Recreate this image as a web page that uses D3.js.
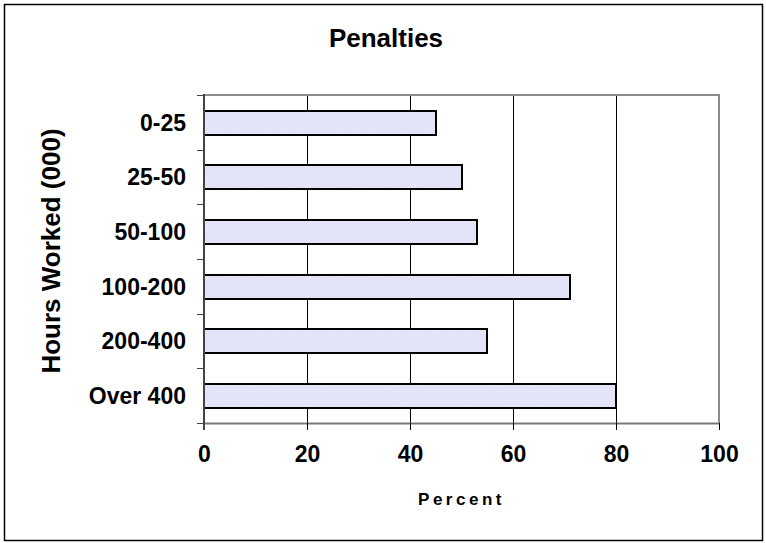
<!DOCTYPE html>
<html>
<head>
<meta charset="utf-8">
<script src="https://cdn.jsdelivr.net/npm/d3@7"></script>
<style>
  html, body { margin: 0; padding: 0; background: #fff; }
  svg text { font-family: "Liberation Sans", Arial, sans-serif; font-weight: bold; fill: #000; }
</style>
</head>
<body>
<svg id="chart" width="766" height="543"></svg>
<script>
// Penalties by hours worked (thousands)
const categories = ["0-25", "25-50", "50-100", "100-200", "200-400", "Over 400"];
const percentValues = [45, 50, 53, 71, 55, 80];
const xTicks = [0, 20, 40, 60, 80, 100];

const svg = d3.select("#chart");

// Frame around the whole chart
svg.append("rect")
  .attr("x", 4.5).attr("y", 4.5)
  .attr("width", 758).attr("height", 536)
  .attr("fill", "#fff")
  .attr("stroke", "#000").attr("stroke-width", 1.5);

const plot = { left: 204, right: 719, top: 95, bottom: 423 };

const x = d3.scaleLinear().domain([0, 100]).range([plot.left, plot.right]);
const y = d3.scaleBand().domain(categories)
  .range([plot.top, plot.bottom])
  .paddingInner(0.57).paddingOuter(0.285);

const px = v => Math.round(v) + 0.5;

// Vertical gridlines
svg.append("g")
  .selectAll("line")
  .data(xTicks.filter(t => t > 0 && t < 100))
  .join("line")
  .attr("x1", d => px(x(d))).attr("x2", d => px(x(d)))
  .attr("y1", plot.top).attr("y2", plot.bottom)
  .attr("stroke", "#000").attr("stroke-width", 1);

// Plot area top and right edges
svg.append("path")
  .attr("d", `M${plot.left},${plot.top}H${plot.right}V${plot.bottom}`)
  .attr("fill", "none")
  .attr("stroke", "#8c8c8c").attr("stroke-width", 2);

// Hatched fill for bars
const defs = svg.append("defs");
const pat = defs.append("pattern")
  .attr("id", "barFill")
  .attr("patternUnits", "userSpaceOnUse")
  .attr("width", 3).attr("height", 3)
  .attr("patternTransform", "rotate(45)");
pat.append("rect").attr("width", 3).attr("height", 3).attr("fill", "#e6e6fb");
pat.append("line").attr("x1", 0).attr("y1", 0).attr("x2", 0).attr("y2", 3)
  .attr("stroke", "#d8d8f2").attr("stroke-width", 1);

// Bars
svg.append("g")
  .selectAll("rect")
  .data(categories.map((c, i) => ({ c, v: percentValues[i] })))
  .join("rect")
  .attr("x", x(0))
  .attr("y", d => Math.round(y(d.c)))
  .attr("width", d => Math.round(x(d.v) - x(0)))
  .attr("height", Math.round(y.bandwidth()))
  .attr("fill", "url(#barFill)")
  .attr("stroke", "#000").attr("stroke-width", 2);

// X axis
const xAxis = svg.append("g")
  .attr("transform", `translate(0,${plot.bottom})`)
  .call(d3.axisBottom(x).tickValues(xTicks).tickSize(7).tickPadding(16).tickSizeOuter(0));
xAxis.select(".domain").attr("stroke", "#7a7a7a").attr("stroke-width", 2);
xAxis.selectAll(".tick line").attr("stroke", "#000");
xAxis.selectAll(".tick text")
  .attr("font-size", 23)
  .attr("font-family", "'Liberation Sans', Arial, sans-serif")
  .attr("font-weight", "bold")
  .attr("fill", "#000");

// Y axis: ticks sit on the band boundaries
const yAxisG = svg.append("g");
yAxisG.append("line")
  .attr("x1", plot.left).attr("x2", plot.left)
  .attr("y1", plot.top - 1).attr("y2", plot.bottom + 7)
  .attr("stroke", "#444").attr("stroke-width", 2);
const step = y.step();
const bounds = d3.range(categories.length + 1).map(i => px(plot.top + i * step));
yAxisG.selectAll("line.tick")
  .data(bounds)
  .join("line")
  .attr("class", "tick")
  .attr("x1", plot.left - 7).attr("x2", plot.left)
  .attr("y1", d => d).attr("y2", d => d)
  .attr("stroke", "#444").attr("stroke-width", 1);
yAxisG.selectAll("text")
  .data(categories)
  .join("text")
  .attr("x", 186)
  .attr("y", d => y(d) + y.bandwidth() / 2)
  .attr("dy", "0.36em")
  .attr("text-anchor", "end")
  .attr("font-size", 23)
  .text(d => d);

// Titles
svg.append("text")
  .attr("x", 386).attr("y", 47)
  .attr("text-anchor", "middle")
  .attr("font-size", 26)
  .text("Penalties");

svg.append("text")
  .attr("x", (plot.left + plot.right) / 2).attr("y", 505)
  .attr("text-anchor", "middle")
  .attr("font-size", 17)
  .attr("letter-spacing", 3.5)
  .text("Percent");

svg.append("text")
  .attr("transform", "translate(60,251) rotate(-90)")
  .attr("text-anchor", "middle")
  .attr("font-size", 26)
  .text("Hours Worked (000)");
</script>
</body>
</html>
